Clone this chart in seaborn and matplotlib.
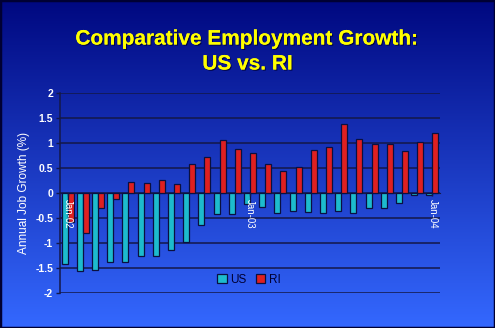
import numpy as np
import pandas as pd
import matplotlib
matplotlib.use("Agg")
import matplotlib.pyplot as plt
import matplotlib.patheffects as pe
from matplotlib.colors import LinearSegmentedColormap
from matplotlib.patches import Rectangle
import seaborn as sns

# Monthly annual job growth (%), Jan-02 through Jan-04
months = [f"{m}-{y}" for y in ["02", "03"] for m in
          ["Jan", "Feb", "Mar", "Apr", "May", "Jun",
           "Jul", "Aug", "Sep", "Oct", "Nov", "Dec"]] + ["Jan-04"]
us_growth = [-1.41, -1.55, -1.53, -1.38, -1.38, -1.25, -1.25, -1.13, -0.97,
             -0.64, -0.42, -0.42, -0.21, -0.27, -0.39, -0.36, -0.38, -0.40,
             -0.36, -0.39, -0.30, -0.29, -0.20, -0.04, -0.04]
ri_growth = [-0.58, -0.80, -0.30, -0.11, 0.23, 0.21, 0.26, 0.19, 0.58,
             0.73, 1.07, 0.88, 0.80, 0.58, 0.45, 0.53, 0.86, 0.93,
             1.39, 1.08, 0.99, 0.98, 0.85, 1.03, 1.20]
series = ["US", "RI"]
tick_months = ["Jan-02", "Jan-03", "Jan-04"]
y_ticks = [-2, -1.5, -1, -0.5, 0, 0.5, 1, 1.5, 2]

df = pd.DataFrame({
    "month": months * 2,
    "series": ["US"] * len(months) + ["RI"] * len(months),
    "growth": us_growth + ri_growth,
})

plt.rcParams["font.family"] = ["Liberation Sans", "DejaVu Sans"]

fig = plt.figure(figsize=(4.95, 3.28), dpi=100)

# vertical blue gradient behind everything
bg = fig.add_axes([0, 0, 1, 1], zorder=0)
grad = LinearSegmentedColormap.from_list(
    "slide", [(0 / 255, 8 / 255, 128 / 255), (52 / 255, 104 / 255, 255 / 255)])
bg.imshow(np.linspace(0, 1, 256).reshape(-1, 1), aspect="auto", cmap=grad,
          extent=[0, 1, 0, 1], origin="upper")
bg.set_axis_off()
fig.patches.append(Rectangle((0, 0), 1, 1, transform=fig.transFigure,
                             fill=False, edgecolor="#000033", linewidth=2.5,
                             zorder=10))

ax = fig.add_axes([60 / 495, 1 - 293 / 328, 380 / 495, 200 / 328], zorder=1)
ax.patch.set_alpha(0)

sns.barplot(data=df, x="month", y="growth", hue="series", order=months,
            hue_order=series, palette={"US": "#00d2ea", "RI": "#ff0000"},
            width=0.8, edgecolor="#0a1040", linewidth=0.9, ax=ax,
            errorbar=None, zorder=3)

# x axis runs along the zero line
ax.spines["bottom"].set_position(("data", 0))
ax.spines["bottom"].set_color("#141848")
for s in ["top", "right"]:
    ax.spines[s].set_visible(False)
ax.spines["left"].set_color("#141848")
ax.spines["left"].set_linewidth(1.1)

ax.set_ylim(-2, 2)
ax.set_xlim(-0.5, len(months) - 0.5)
ax.set_yticks(y_ticks)
ax.set_yticklabels([f"{v:g}" for v in y_ticks])
ax.yaxis.grid(True, color="#141848", linewidth=1.1)
ax.set_axisbelow(True)
ax.tick_params(axis="y", direction="out", length=3, width=1,
               color="#141848", pad=2, labelcolor="white", labelsize=7.5)
for t in ax.get_yticklabels():
    t.set_fontweight("bold")

ax.set_xticks([months.index(m) for m in tick_months])
ax.set_xticklabels(tick_months)
ax.tick_params(axis="x", direction="out", length=2, width=1,
               color="#141848", pad=2, labelcolor="white", labelsize=7,
               labelrotation=270)
for t in ax.get_xticklabels():
    t.set_ha("center")
    t.set_va("top")
# month labels sit on top of the bars
ax.xaxis.set_zorder(5)

ax.set_xlabel("")
ax.set_ylabel("Annual Job Growth (%)", color="white", fontsize=8.5,
              labelpad=4)

handles, labels = ax.get_legend_handles_labels()
ax.legend(handles, labels, loc="center", bbox_to_anchor=(0.497, 0.065),
          ncol=2, frameon=False, fontsize=8.5, labelcolor="#000033",
          handlelength=0.8, handleheight=0.8, handletextpad=0.3,
          columnspacing=0.8)

shadow = [pe.withSimplePatchShadow(offset=(0.8, -0.8),
                                   shadow_rgbFace="#000030", alpha=0.8),
          pe.Normal()]
fig.text(0.5, 1 - 39 / 328, "Comparative Employment Growth:", ha="center",
         va="center", color="#ffff00", fontsize=15, fontweight="bold",
         path_effects=shadow)
fig.text(0.5, 1 - 64 / 328, "US vs. RI", ha="center", va="center",
         color="#ffff00", fontsize=15, fontweight="bold",
         path_effects=shadow)

fig.savefig("out.png", dpi=100)
